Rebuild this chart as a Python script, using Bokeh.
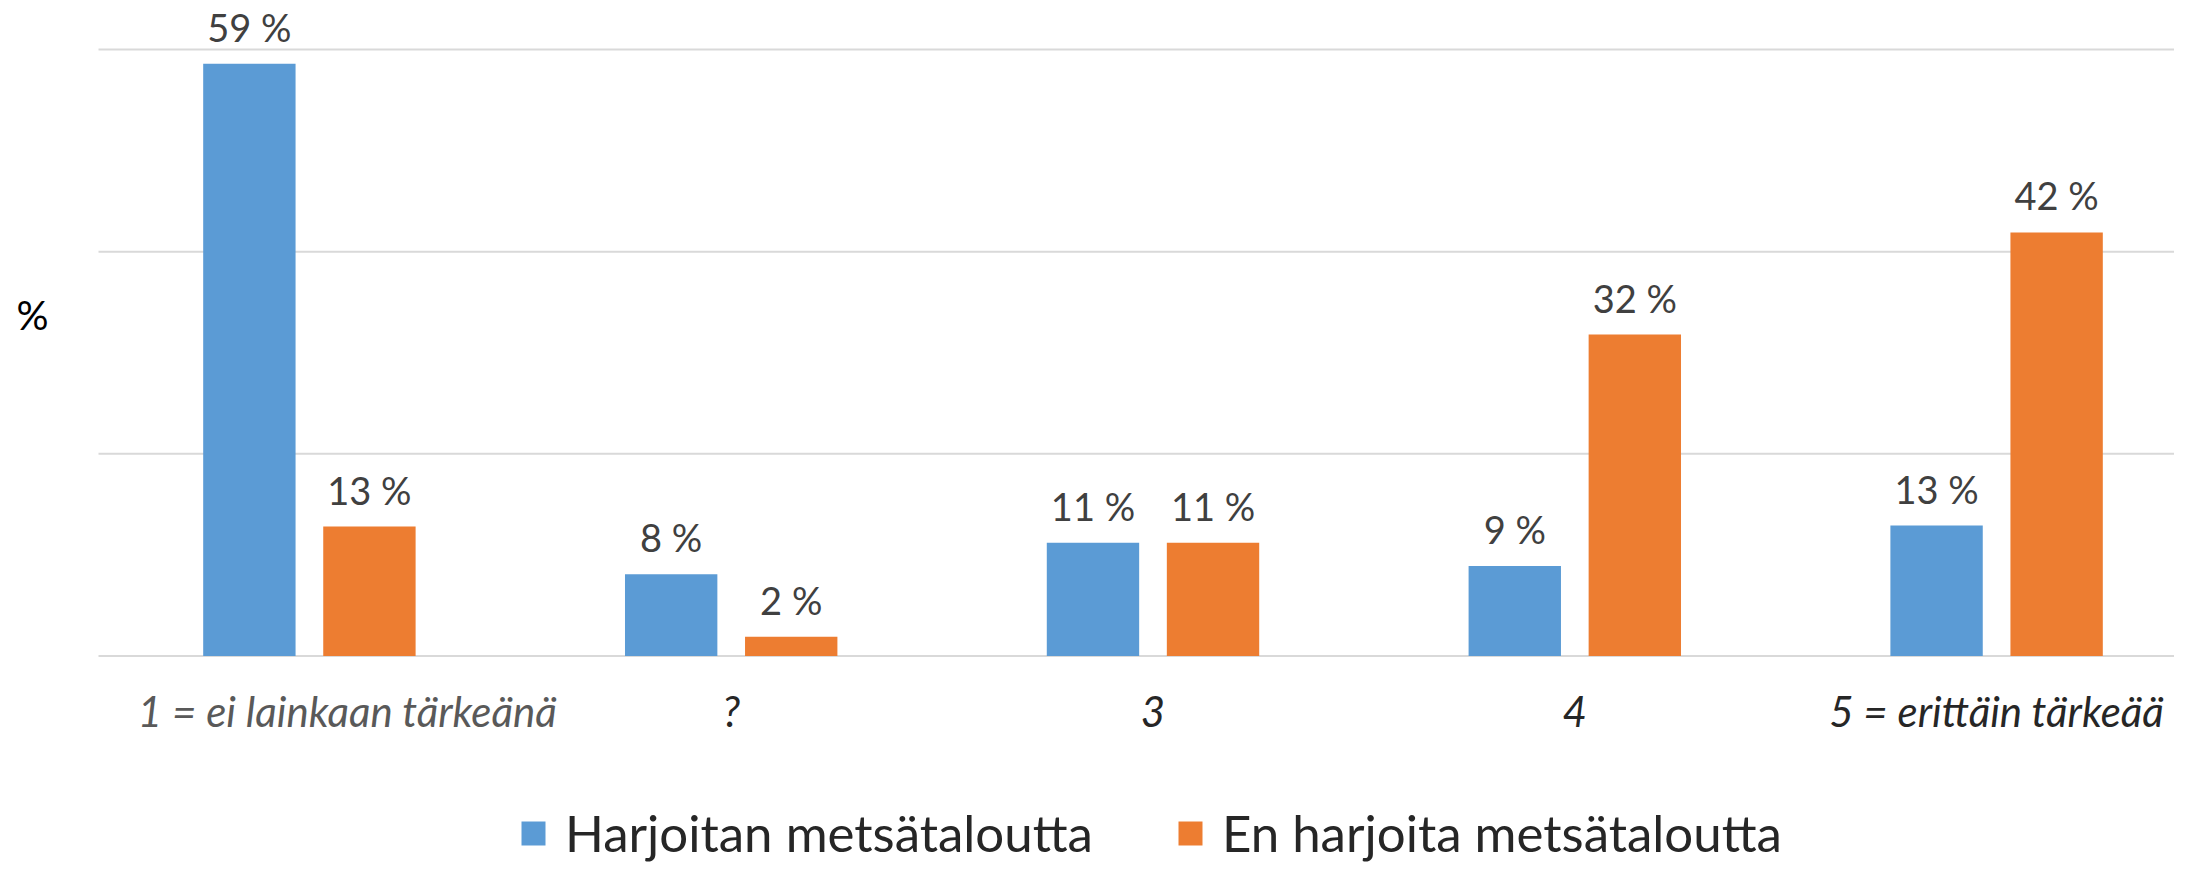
from bokeh.plotting import figure
from bokeh.models import ColumnDataSource, LabelSet, Label, Legend, LegendItem, Range1d
from bokeh.core.properties import value
from bokeh.embed import file_html
from bokeh.resources import INLINE

categories = ["1 = ei lainkaan tärkeänä", "?", "3", "4", "5 = erittäin tärkeää"]
harjoitan = [58.6, 8.1, 11.2, 8.9, 12.9]
en_harjoita = [12.8, 1.9, 11.2, 31.8, 41.9]
series_names = ["Harjoitan metsätaloutta", "En harjoita metsätaloutta"]
y_ticks = [0, 20, 40, 60]

BLUE = "#5B9BD5"
ORANGE = "#ED7D31"
FONT = "Lato"

W, H = 2174, 863
PX_X = 421.8          # pixels per category
PX_Y = 10.108         # pixels per percent
LEFT = 98             # frame-start of category axis (px)
ZERO = 655.5          # y=0 position from top (px)

x0, x1 = -LEFT / PX_X, (W - LEFT) / PX_X
y1, y0 = ZERO / PX_Y, -(H - ZERO) / PX_Y

p = figure(width=W, height=H, output_backend="svg", toolbar_location=None,
           x_range=Range1d(x0, x1), y_range=Range1d(y0, y1),
           min_border_left=0, min_border_right=0, min_border_top=0, min_border_bottom=0)
p.outline_line_color = None
p.background_fill_color = "white"
p.border_fill_color = "white"
p.xaxis.visible = False
p.yaxis.visible = False
p.xgrid.grid_line_color = None
p.ygrid.grid_line_color = None

# horizontal gridlines over the category area only
p.segment(x0=[0] * len(y_ticks), x1=[x1] * len(y_ticks), y0=y_ticks, y1=y_ticks,
          line_color="#D9D9D9", line_width=2)

n = len(categories)
off = 0.1423
bw = 0.219
xb = [i + 0.5 - off for i in range(n)]
xo = [i + 0.5 + off for i in range(n)]

src_b = ColumnDataSource(dict(x=xb, top=harjoitan, lab=[f"{round(v)} %" for v in harjoitan]))
src_o = ColumnDataSource(dict(x=xo, top=en_harjoita, lab=[f"{round(v)} %" for v in en_harjoita]))

rb = p.vbar(x="x", top="top", width=bw, bottom=0, source=src_b, fill_color=BLUE, line_color=None)
ro = p.vbar(x="x", top="top", width=bw, bottom=0, source=src_o, fill_color=ORANGE, line_color=None)

for s in (src_b, src_o):
    p.add_layout(LabelSet(x="x", y="top", text="lab", source=s, text_align="center",
                          text_baseline="alphabetic", y_offset=22,
                          text_font=value(FONT), text_font_size="38px", text_color="#404040"))

cat_src = ColumnDataSource(dict(x=[i + 0.5 for i in range(n)], y=[0] * n, t=categories,
                                c=["#595959"] + ["#262626"] * (n - 1),
                                dx=[38] + [0] * (n - 1)))
p.add_layout(LabelSet(x="x", y="y", text="t", source=cat_src, text_align="center",
                      text_baseline="alphabetic", x_offset="dx", y_offset=-71, text_color="c",
                      text_font=value(FONT), text_font_size="42px", text_font_style="italic"))

p.add_layout(Label(x=32, y=H - 314, x_units="screen", y_units="screen", text="%",
                   text_align="center", text_baseline="middle", text_font=FONT,
                   text_font_size="40px", text_color="#000000"))

legend = Legend(items=[LegendItem(label=series_names[0], renderers=[rb]),
                       LegendItem(label=series_names[1], renderers=[ro])],
                orientation="horizontal", location=(518, 0),
                glyph_width=30, glyph_height=30, label_standoff=17, spacing=82,
                padding=0, margin=0, border_line_color=None, background_fill_alpha=0,
                label_text_font=FONT, label_text_font_size="51px", label_text_color="#262626")
p.add_layout(legend, "center")

open("out.html", "w").write(file_html(p, INLINE))
